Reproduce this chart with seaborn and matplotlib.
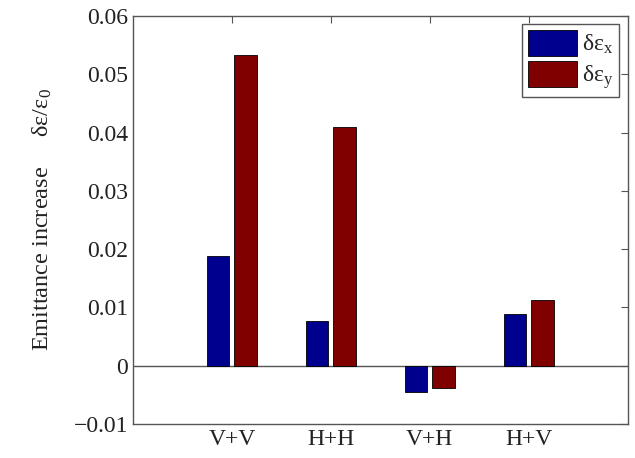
import matplotlib
matplotlib.use("Agg")
import matplotlib.pyplot as plt
import seaborn as sns
import pandas as pd

# Emittance growth for each kicker configuration
configs = ["V+V", "H+H", "V+H", "H+V"]
d_eps_x = [0.0189, 0.0076, -0.0045, 0.0089]
d_eps_y = [0.0533, 0.0410, -0.0039, 0.0112]
series = ["δε$_\\mathregular{x}$", "δε$_\\mathregular{y}$"]
yticks = [-0.01, 0, 0.01, 0.02, 0.03, 0.04, 0.05, 0.06]

df = pd.DataFrame({
    "config": configs * 2,
    "value": d_eps_x + d_eps_y,
    "plane": [series[0]] * len(configs) + [series[1]] * len(configs),
})

sns.set_style("white")
plt.rcParams["font.family"] = ["Liberation Serif", "DejaVu Serif"]
plt.rcParams["mathtext.fontset"] = "stix"

fig = plt.figure(figsize=(6.35, 4.58), dpi=100)
ax = fig.add_axes([0.2094, 0.0742, 0.7791, 0.8908])

sns.barplot(data=df, x="config", y="value", hue="plane", order=configs,
            hue_order=series, palette=["#00008f", "#800000"], saturation=1,
            width=0.56, gap=0.18, edgecolor="black", linewidth=0.6,
            errorbar=None, ax=ax)

ax.axhline(0, color="#555555", lw=1.0, zorder=0.5)
ax.set_xlim(-1, 4)
ax.set_ylim(-0.01, 0.06)
ax.set_yticks(yticks)
ax.set_yticklabels(["\u22120.01", "0", "0.01", "0.02", "0.03", "0.04", "0.05", "0.06"])
ax.set_xlabel("")
ax.set_ylabel("Emittance increase     δε/ε$_\\mathregular{0}$",
              fontsize=17.5, color="#222222", labelpad=14)

for s in ax.spines.values():
    s.set_visible(True)
    s.set_color("#555555")
    s.set_linewidth(1.0)
ax.tick_params(direction="in", length=5, width=0.8, color="#555555",
               top=True, right=True, labelsize=17, labelcolor="#222222")

handles, _ = ax.get_legend_handles_labels()
ax.legend(handles, series, loc="upper right", fontsize=17, fancybox=False,
          edgecolor="#555555", framealpha=1, handlelength=2.1,
          handleheight=1.3, handletextpad=0.2, borderpad=0.25,
          labelspacing=0.2, borderaxespad=0.35)

fig.savefig("out.png", dpi=100)
